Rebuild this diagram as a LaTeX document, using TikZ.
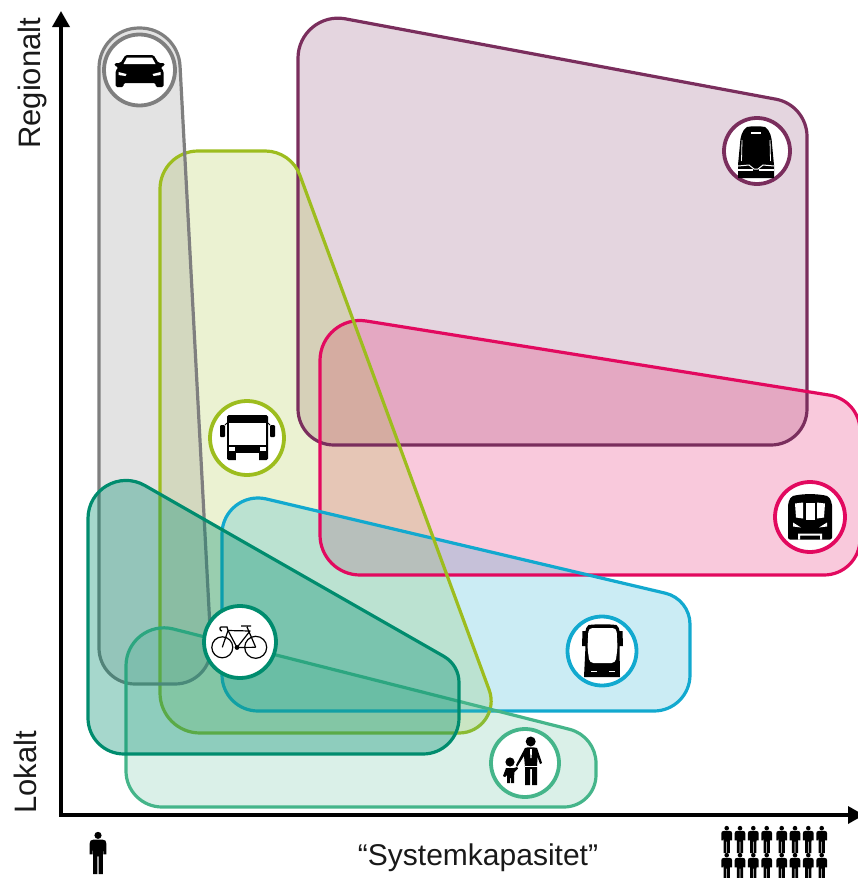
\documentclass[tikz,border=0pt]{standalone}
\usepackage{fontspec}
\setmainfont{Liberation Sans}
\usetikzlibrary{arrows.meta}
\definecolor{cMaroon}{HTML}{7A2E5D}
\definecolor{cPink}{HTML}{E2095F}
\definecolor{cLime}{HTML}{9DBD1E}
\definecolor{cGray}{HTML}{7F7F7F}
\definecolor{cBlue}{HTML}{12A9CF}
\definecolor{cDark}{HTML}{008C6E}
\definecolor{cLight}{HTML}{45B58A}
\tikzset{
  zone/.style={line width=3.2pt, line join=round},
  ring/.style={circle, fill=white, line width=3.8pt, inner sep=0pt},
  axisline/.style={line width=3.4pt, -{Triangle[length=16pt,width=17pt]}},
  lab/.style={font=\fontsize{30}{32}\selectfont, text=black!90, inner sep=0pt},
  axislab/.style={lab,font=\fontsize{31}{33}\selectfont,rotate=90,anchor=base west},
  ink/.style={fill=black, draw=none},
  paper/.style={fill=white, draw=none}
}
% fillet of a polygon corner: name, previous point, vertex, next point, radius
\def\filx#1#2,#3;#4,#5;#6,#7;#8{%
  \pgfmathsetmacro\ua{atan2((#3)-(#5),(#2)-(#4))}%
  \pgfmathsetmacro\ub{atan2((#7)-(#5),(#6)-(#4))}%
  \pgfmathsetmacro\th{mod(\ua-\ub+720,360)}%
  \pgfmathsetmacro\th{\th>180?360-\th:\th}%
  \pgfmathsetmacro\dd{#8/tan(\th/2)}%
  \pgfmathsetmacro\hh{4/3*tan((180-\th)/4)*#8}%
  \coordinate (#1A) at ({#4+\dd*cos(\ua)},{#5+\dd*sin(\ua)});
  \coordinate (#1C) at ({#4+(\dd-\hh)*cos(\ua)},{#5+(\dd-\hh)*sin(\ua)});
  \coordinate (#1D) at ({#4+(\dd-\hh)*cos(\ub)},{#5+(\dd-\hh)*sin(\ub)});
  \coordinate (#1B) at ({#4+\dd*cos(\ub)},{#5+\dd*sin(\ub)});
}
\def\zoneR#1,#2,#3,#4;{\def\ra{#1}\def\rb{#2}\def\rc{#3}\def\rd{#4}}
\newcommand{\mkzone}[7]{%
  \zoneR#7;%
  \filx{#2a}#6;#3;#4;{\ra}%
  \filx{#2b}#3;#4;#5;{\rb}%
  \filx{#2c}#4;#5;#6;{\rc}%
  \filx{#2d}#5;#6;#3;{\rd}%
  \def#1{(#2aA) .. controls (#2aC) and (#2aD) .. (#2aB) -- (#2bA) .. controls (#2bC) and (#2bD) .. (#2bB)
    -- (#2cA) .. controls (#2cC) and (#2cD) .. (#2cB) -- (#2dA) .. controls (#2dC) and (#2dD) .. (#2dB) -- cycle}%
}
\newcommand{\personicon}[3]{%
  \begin{scope}[shift={(#1,#2)},scale=#3]
    \fill (0,-.42) circle (.085);
    \fill (-.1,-.32) -- (.1,-.32) .. controls (.17,-.32) and (.2,-.29) .. (.2,-.22)
      -- (.2,.03) -- (.13,.03) -- (.12,-.18) -- (.115,.5) -- (.015,.5) -- (.015,.08) -- (-.015,.08)
      -- (-.015,.5) -- (-.115,.5) -- (-.12,-.18) -- (-.13,.03) -- (-.2,.03) -- (-.2,-.22)
      .. controls (-.2,-.29) and (-.17,-.32) .. (-.1,-.32) -- cycle;
  \end{scope}}
\begin{document}
\begin{tikzpicture}[x=1pt,y=-1pt]
\useasboundingbox (0,0) rectangle (857,878);
\mkzone{\pM}{m}{298,10}{807,105}{807,445}{298,445}{40,38,36,36}
\mkzone{\pP}{p}{320,313.6}{860,400}{860,575}{320,575}{40,36,36,40}
\mkzone{\pL}{l}{160,151}{291,151}{505,733}{160,733}{38,37,32,40}
\mkzone{\pG}{g}{99,28}{178,28}{213,684}{99,684}{40,40,36,36}
\mkzone{\pB}{b}{222,488.5}{690,599}{690,711}{222,711}{36,32,36,36}
\mkzone{\pW}{w}{126,617}{596,736}{596,807}{126,807}{38,35,32,36}
\mkzone{\pD}{d}{88,453}{459,665}{459,754}{88,754}{38,30,36,36}
% fills under the outlines
\fill[cMaroon,fill opacity=.2] \pM;
\fill[cPink,fill opacity=.22] \pP;
\fill[cLime,fill opacity=.2] \pL;
\fill[cGray,fill opacity=.22] \pG;
\fill[cBlue,fill opacity=.22] \pB;
\draw[zone,cMaroon] \pM;
\draw[zone,cPink] \pP;
\draw[zone,cBlue] \pB;
\draw[zone,cLime] \pL;
\draw[zone,cGray] \pG;
\draw[zone,draw=cLight,fill=cLight,fill opacity=.2] \pW;
\draw[zone,draw=cDark,fill=cDark,fill opacity=.35] \pD;
% axes
\coordinate (origin) at (61,815);
\coordinate (ytip) at (61,11);
\coordinate (xtip) at (864,815);
\draw[axisline,line cap=rect] (origin) -- (ytip);
\draw[axisline,line cap=rect] (origin) -- (xtip);
% labels
\node[axislab] (regional) at (40,149) {Regionalt};
\node[axislab] (lokal) at (36,814) {Lokalt};
\node[lab,anchor=base] (sys) at (478,865) {“Systemkapasitet”};
% people
\personicon{98}{853}{42}
\foreach \yy in {839.5,866.5}
  \foreach \xx in {726.7,740,753.3,766.7,781.7,795,808.3,821.7}
    \personicon{\xx}{\yy}{27};
% rings
\node[ring,draw=cGray,minimum size=71pt] (car) at (139.5,70) {};
\node[ring,draw=cMaroon,minimum size=66pt] (rail) at (757,151) {};
\node[ring,draw=cLime,minimum size=74pt] (bus) at (247,438) {};
\node[ring,draw=cPink,minimum size=70pt] (metro) at (810,517) {};
\node[ring,draw=cBlue,minimum size=69pt] (brt) at (602,651) {};
\node[ring,draw=cDark,minimum size=72pt] (bike) at (240,642) {};
\node[ring,draw=cLight,minimum size=68pt] (walk) at (525,763) {};
% car icon
\begin{scope}[shift={(139.5,71)}]
  \fill[ink,rounded corners=1.5pt] (-14,-16) -- (14,-16) -- (19,-8) -- (25,-8) -- (25,-5) -- (21,-4) -- (24,0)
    -- (24,16) -- (16,16) -- (16,12) -- (-16,12) -- (-16,16) -- (-24,16) -- (-24,0) -- (-21,-4) -- (-25,-5) -- (-25,-8) -- (-19,-8) -- cycle;
  \fill[paper] (-12.5,-13.5) -- (12.5,-13.5) -- (16,-7) -- (-16,-7) -- cycle;
  \fill[paper] (-21,1) -- (-13,3) -- (-14,5) -- (-21,4) -- cycle;
  \fill[paper] (21,1) -- (13,3) -- (14,5) -- (21,4) -- cycle;
\end{scope}
% regional train icon
\begin{scope}[shift={(756,152)}]
  \fill[ink] (-9,-25) .. controls (-5,-26) and (5,-26) .. (9,-25) .. controls (14,-22) and (16,-14) .. (16,-8)
    -- (18,13) -- (18,26) -- (-18,26) -- (-18,13) -- (-16,-8) .. controls (-16,-14) and (-14,-22) .. (-9,-25) -- cycle;
  \fill[paper] (-5,-20) rectangle (5,-18);
  \draw[white,line width=1pt] (-18,14) -- (-7,13) -- (-2,17) -- (2,17) -- (7,13) -- (18,14);
  \draw[white,line width=1.4pt] (-18,18) -- (-3,18);
  \draw[white,line width=1.4pt] (18,18) -- (3,18);
  \draw[white,line width=.8pt] (-14,-12) -- (-14.5,9);
  \draw[white,line width=.8pt] (14,-12) -- (14.5,9);
\end{scope}
% city bus icon
\begin{scope}[shift={(247,438)}]
  \fill[ink,rounded corners=1.5pt] (-20,-23) rectangle (21,22);
  \fill[ink,rounded corners=1pt] (-27,-13) rectangle (-22,-1);
  \fill[ink,rounded corners=1pt] (23,-13) rectangle (28,-1);
  \draw[line width=1pt] (-22,-13) -- (-20,-15);
  \draw[line width=1pt] (23,-13) -- (21,-15);
  \fill[paper] (-18,-15) rectangle (19,7);
  \fill[paper] (-18,13) -- (-12,13) -- (-12,9) -- (-18,9) -- cycle;
  \fill[paper] (19,13) -- (13,13) -- (13,9) -- (19,9) -- cycle;
  \fill[paper] (-11,15) rectangle (12,22.5);
\end{scope}
% metro icon
\begin{scope}[shift={(810,517.5)}]
  \fill[ink,rounded corners=2pt] (-19,-21) .. controls (-8,-24) and (8,-24) .. (19,-21) -- (22,-14) -- (22,22) -- (-22,22) -- (-22,-14) -- cycle;
  \fill[paper] (-15,-14) -- (-7,-15) -- (-7,1) -- (-14,0) -- cycle;
  \fill[paper] (-4.5,-15) -- (4.5,-15) -- (4.5,2) -- (-4.5,2) -- cycle;
  \fill[paper] (15,-14) -- (7,-15) -- (7,1) -- (14,0) -- cycle;
  \fill[paper] (-17,5) -- (-9,10) -- (-17,9) -- cycle;
  \fill[paper] (17,5) -- (9,10) -- (17,9) -- cycle;
  \fill[paper] (-12,22) -- (-12,16) -- (12,16) -- (12,22) -- (10,22) -- (10,18) -- (-10,18) -- (-10,22) -- cycle;
\end{scope}
% front-view bus icon
\begin{scope}[shift={(602.5,651)}]
  \fill[ink] (-14,-26) .. controls (-5,-27) and (5,-27) .. (14,-26) .. controls (16,-24) and (17,-22) .. (17,-20)
    -- (20,-20) -- (20.5,-5) -- (17,-5) -- (17.5,26) -- (-18.5,26) -- (-17,-5) -- (-20.5,-5) -- (-20,-20) -- (-17,-20) .. controls (-17,-22) and (-16,-24) .. (-14,-26) -- cycle;
  \fill[paper,rounded corners=4pt] (-14,-23) -- (14,-23) -- (15,-3) -- (13,12) -- (-13,12) -- (-15,-3) -- cycle;
  \fill[paper] (-12,20) rectangle (-6,21.2);
  \fill[paper] (6,20) rectangle (12,21.2);
\end{scope}
% bicycle icon
\begin{scope}[shift={(240,642)}]
  \draw[line width=1.2pt] (-17.7,5.3) circle (10.5);
  \draw[line width=1.2pt] (15.7,5.3) circle (11);
  \draw[line width=1.2pt,line join=round] (-17.7,5.3) -- (-12,-11.5) -- (10,-11) -- (-3,5.5) -- (-12,-11.5);
  \draw[line width=1.2pt,line join=round] (15.7,5.3) -- (7,-15) (1,-16) -- (11,-16);
  \draw[line width=1.2pt,line join=round] (-3,5.5) -- (15.7,5.3);
  \draw[line width=1.3pt] (-12,-11.5) -- (-13,-15) -- (-19,-15) .. controls (-20.5,-15) and (-20.5,-11) .. (-18,-11);
  \fill (-3,5.5) circle (2.4);
\end{scope}
% walking family icon
\begin{scope}[shift={(525,763)}]
  \fill (5.7,-21.5) circle (5);
  \fill (0,-15) .. controls (2,-16) and (9,-16) .. (12,-15) -- (17,0) -- (15,1) -- (12.5,-6) -- (12,4) -- (12,22) -- (7,22) -- (7,6) -- (5,6) -- (5,22) -- (0,22) -- (0,4) -- (-1,-7) -- (-8,4) -- (-9,2) -- cycle;
  \fill[paper] (-.5,2.5) rectangle (12.5,3.5);
  \fill[paper] (5,-14) -- (7,-14) -- (6.6,-5) -- (5.4,-5) -- cycle;
  \fill (-15,-1) circle (4.6);
  \fill (-19,5) -- (-11,5) -- (-8,4) -- (-7,5.5) -- (-10.5,9) -- (-11,14) -- (-11,20) -- (-14,20) -- (-14,15) -- (-15,15) -- (-15,20) -- (-18,20) -- (-18,12) -- (-20,14) -- (-22,13) -- cycle;
\end{scope}
\end{tikzpicture}
\end{document}
